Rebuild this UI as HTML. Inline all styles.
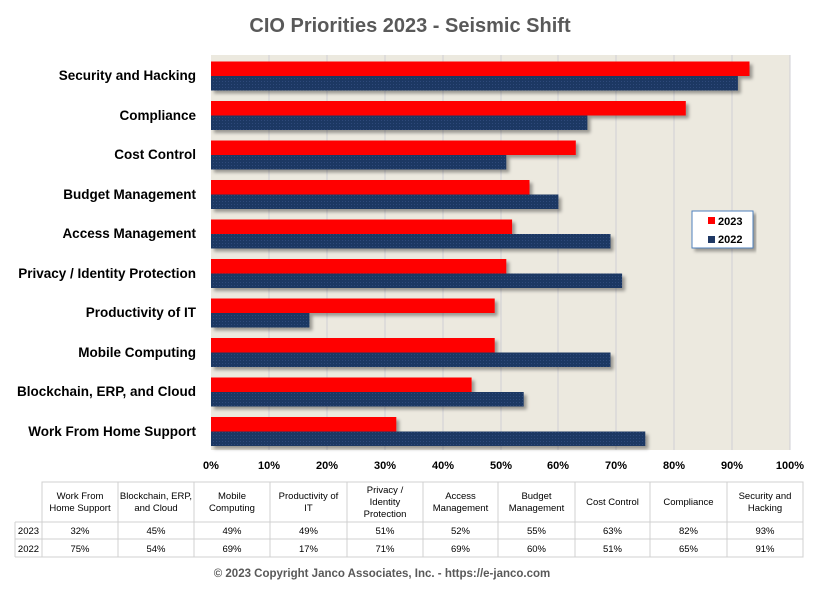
<!DOCTYPE html>
<html><head><meta charset="utf-8"><style>
body{margin:0;background:#fff;}
svg text{font-family:"Liberation Sans",sans-serif;}
</style></head><body>
<svg width="819" height="600" xmlns="http://www.w3.org/2000/svg">
<defs>
<filter id="sh" x="-5%" y="-20%" width="110%" height="160%"><feDropShadow dx="3" dy="3" stdDeviation="1.5" flood-color="#000" flood-opacity="0.35"/></filter>
<pattern id="pat" width="3" height="3" patternUnits="userSpaceOnUse"><rect width="3" height="3" fill="#1f3864"/><rect width="1" height="1" fill="#2e4a7a"/></pattern>
</defs>
<text x="410" y="32" text-anchor="middle" font-size="20" font-weight="bold" fill="#595959">CIO Priorities 2023 - Seismic Shift</text>
<rect x="211" y="55" width="579" height="395" fill="#ece9df"/>
<g stroke="#cfcfd4" stroke-width="1">
<line x1="269" y1="55" x2="269" y2="450"/><line x1="327" y1="55" x2="327" y2="450"/><line x1="385" y1="55" x2="385" y2="450"/><line x1="443" y1="55" x2="443" y2="450"/><line x1="501" y1="55" x2="501" y2="450"/><line x1="558" y1="55" x2="558" y2="450"/><line x1="616" y1="55" x2="616" y2="450"/><line x1="674" y1="55" x2="674" y2="450"/><line x1="732" y1="55" x2="732" y2="450"/><line x1="790" y1="55" x2="790" y2="450"/>
</g>
<g filter="url(#sh)">
<rect x="211" y="61.5" width="538.5" height="14.5" fill="#ff0000"/><rect x="211" y="76" width="526.9" height="14.5" fill="url(#pat)"/>
<rect x="211" y="101" width="474.8" height="14.5" fill="#ff0000"/><rect x="211" y="115.5" width="376.4" height="14.5" fill="url(#pat)"/>
<rect x="211" y="140.5" width="364.8" height="14.5" fill="#ff0000"/><rect x="211" y="155" width="295.3" height="14.5" fill="url(#pat)"/>
<rect x="211" y="180" width="318.5" height="14.5" fill="#ff0000"/><rect x="211" y="194.5" width="347.4" height="14.5" fill="url(#pat)"/>
<rect x="211" y="219.5" width="301.1" height="14.5" fill="#ff0000"/><rect x="211" y="234" width="399.5" height="14.5" fill="url(#pat)"/>
<rect x="211" y="259" width="295.3" height="14.5" fill="#ff0000"/><rect x="211" y="273.5" width="411.1" height="14.5" fill="url(#pat)"/>
<rect x="211" y="298.5" width="283.7" height="14.5" fill="#ff0000"/><rect x="211" y="313" width="98.4" height="14.5" fill="url(#pat)"/>
<rect x="211" y="338" width="283.7" height="14.5" fill="#ff0000"/><rect x="211" y="352.5" width="399.5" height="14.5" fill="url(#pat)"/>
<rect x="211" y="377.5" width="260.6" height="14.5" fill="#ff0000"/><rect x="211" y="392" width="312.7" height="14.5" fill="url(#pat)"/>
<rect x="211" y="417" width="185.3" height="14.5" fill="#ff0000"/><rect x="211" y="431.5" width="434.3" height="14.5" fill="url(#pat)"/>
</g>
<g font-size="13.5" font-weight="bold" fill="#000" text-anchor="end">
<text x="196" y="80">Security and Hacking</text>
<text x="196" y="120">Compliance</text>
<text x="196" y="159">Cost Control</text>
<text x="196" y="199">Budget Management</text>
<text x="196" y="238">Access Management</text>
<text x="196" y="278">Privacy / Identity Protection</text>
<text x="196" y="317">Productivity of IT</text>
<text x="196" y="357">Mobile Computing</text>
<text x="196" y="396">Blockchain, ERP, and Cloud</text>
<text x="196" y="436">Work From Home Support</text>
</g>
<g font-size="11" font-weight="bold" text-anchor="middle">
<text x="211" y="469">0%</text><text x="269" y="469">10%</text><text x="327" y="469">20%</text><text x="385" y="469">30%</text><text x="443" y="469">40%</text><text x="501" y="469">50%</text><text x="558" y="469">60%</text><text x="616" y="469">70%</text><text x="674" y="469">80%</text><text x="732" y="469">90%</text><text x="790" y="469">100%</text>
</g>
<rect x="692" y="211" width="61" height="37" fill="#fff" stroke="#4f81bd" filter="url(#sh)"/>
<rect x="708" y="217" width="7" height="7" fill="#ff0000"/><text x="718" y="225" font-size="11" font-weight="bold">2023</text>
<rect x="708" y="236" width="7" height="7" fill="#1f3864"/><text x="718" y="243" font-size="11" font-weight="bold">2022</text>
<g stroke="#d0d0d0" stroke-width="1" fill="none">
<rect x="42" y="482" width="761" height="75"/>
<line x1="15" y1="522" x2="803" y2="522"/><line x1="15" y1="539" x2="803" y2="539"/><line x1="15" y1="557" x2="42" y2="557"/>
<line x1="15" y1="522" x2="15" y2="557"/>
<line x1="118" y1="482" x2="118" y2="557"/><line x1="194" y1="482" x2="194" y2="557"/><line x1="270" y1="482" x2="270" y2="557"/><line x1="347" y1="482" x2="347" y2="557"/><line x1="423" y1="482" x2="423" y2="557"/><line x1="498" y1="482" x2="498" y2="557"/><line x1="575" y1="482" x2="575" y2="557"/><line x1="650" y1="482" x2="650" y2="557"/><line x1="727" y1="482" x2="727" y2="557"/>
</g>
<g font-size="9.5" text-anchor="middle" fill="#000">
<text x="80" y="499">Work From</text><text x="80" y="511">Home Support</text>
<text x="156" y="499">Blockchain, ERP,</text><text x="156" y="511">and Cloud</text>
<text x="232" y="499">Mobile</text><text x="232" y="511">Computing</text>
<text x="308.5" y="499">Productivity of</text><text x="308.5" y="511">IT</text>
<text x="385" y="493">Privacy /</text><text x="385" y="505">Identity</text><text x="385" y="517">Protection</text>
<text x="460.5" y="499">Access</text><text x="460.5" y="511">Management</text>
<text x="536.5" y="499">Budget</text><text x="536.5" y="511">Management</text>
<text x="612.5" y="505">Cost Control</text>
<text x="688.5" y="505">Compliance</text>
<text x="765" y="499">Security and</text><text x="765" y="511">Hacking</text>
<text x="28.5" y="534">2023</text><text x="28.5" y="552">2022</text>
<text x="80" y="534">32%</text><text x="156" y="534">45%</text><text x="232" y="534">49%</text><text x="308.5" y="534">49%</text><text x="385" y="534">51%</text><text x="460.5" y="534">52%</text><text x="536.5" y="534">55%</text><text x="612.5" y="534">63%</text><text x="688.5" y="534">82%</text><text x="765" y="534">93%</text>
<text x="80" y="552">75%</text><text x="156" y="552">54%</text><text x="232" y="552">69%</text><text x="308.5" y="552">17%</text><text x="385" y="552">71%</text><text x="460.5" y="552">69%</text><text x="536.5" y="552">60%</text><text x="612.5" y="552">51%</text><text x="688.5" y="552">65%</text><text x="765" y="552">91%</text>
</g>
<text x="382" y="577" text-anchor="middle" font-size="11.5" font-weight="bold" fill="#595959">© 2023 Copyright Janco Associates, Inc. - https://e-janco.com</text>
</svg>
</body></html>
